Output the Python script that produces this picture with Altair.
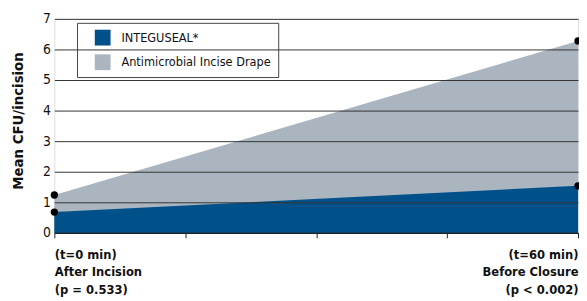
import altair as alt
import pandas as pd

# Data
times = [0, 60]
integuseal = [0.68, 1.54]
drape = [1.24, 6.28]
series_names = ["INTEGUSEAL*", "Antimicrobial Incise Drape"]
series_colors = ["#00508A", "#ABB5BF"]
y_ticks = [0, 1, 2, 3, 4, 5, 6, 7]
x_ticks = [0, 15, 30, 45, 60]
left_label = ["(t=0 min)", "After Incision", "(p = 0.533)"]
right_label = ["(t=60 min)", "Before Closure", "(p < 0.002)"]

rows = []
for t, a, b in zip(times, integuseal, drape):
    rows.append({"t": t, "v": a, "series": series_names[0]})
    rows.append({"t": t, "v": b, "series": series_names[1]})
df = pd.DataFrame(rows)

FONT = "'DejaVu Sans Condensed', 'Liberation Sans Narrow', Roboto, sans-serif"

def js_arr(lst):
    return "[" + ",".join("'" + s + "'" for s in lst) + "]"

label_expr = (
    f"datum.value == {times[0]} ? {js_arr(left_label)} : "
    f"(datum.value == {times[1]} ? {js_arr(right_label)} : '')"
)

x_enc = alt.X(
    "t:Q",
    scale=alt.Scale(domain=[0, 60], nice=False, zero=False),
    axis=alt.Axis(
        values=x_ticks, title=None, grid=False, labelExpr=label_expr,
        labelFlush=True, labelFont=FONT, labelFontSize=13, labelFontWeight="bold",
        labelColor="#111", labelLineHeight=17.5, labelPadding=11,
        tickSize=5, tickColor="#222", domainColor="#222", domainWidth=1.5,
        labelOverlap=False, zindex=2,
    ),
)
y_enc = alt.Y(
    "v:Q",
    scale=alt.Scale(domain=[0, 7], nice=False),
    axis=alt.Axis(
        values=y_ticks, title="Mean CFU/incision", grid=True, gridColor="#333",
        gridWidth=1, domain=False, ticks=False, labelFont=FONT, labelFontSize=14,
        labelColor="#111", labelPadding=4, labelOverlap=False, titleFont=FONT,
        titleFontSize=15, titleFontWeight="bold", titleColor="#111", titleX=-32,
        titleY=103, titleAngle=-90, titleBaseline="alphabetic", titleAlign="center",
        zindex=1,
    ),
)
color_enc = alt.Color(
    "series:N",
    scale=alt.Scale(domain=series_names, range=series_colors),
    legend=alt.Legend(
        title=None, orient="none", legendX=23, legendY=4, direction="vertical",
        symbolType="square", symbolSize=256, symbolStrokeWidth=0, symbolOpacity=1,
        labelFont=FONT, labelFontSize=12.8, labelColor="#111", labelOffset=11,
        padding=7, symbolOffset=11, rowPadding=9, strokeColor="#444",
        fillColor="white", cornerRadius=0,
    ),
)

base = alt.Chart(df)
grey = base.transform_filter(alt.datum.series == series_names[1]).mark_area(
    opacity=1, interpolate="linear"
).encode(x=x_enc, y=y_enc, color=color_enc)
blue = base.transform_filter(alt.datum.series == series_names[0]).mark_area(
    opacity=1, interpolate="linear"
).encode(x=x_enc, y=y_enc, color=color_enc)
pts = base.mark_circle(size=55, color="black", opacity=1).encode(x=x_enc, y=y_enc)

chart = alt.layer(grey, blue, pts).properties(
    width=531, height=217,
    autosize=alt.AutoSizeParams(type="none"),
    padding={"left": 47, "top": 9, "right": 1, "bottom": 64},
).configure_view(stroke=None).configure(background="white")

chart.save("out.html", embed_options={"renderer": "svg", "actions": False})
